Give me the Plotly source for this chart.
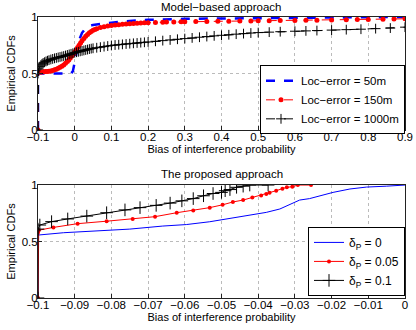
import plotly.graph_objects as go

# ---- top panel: model-based approach ----
x50 = [-0.1, -0.1, -0.01, -0.005, 0.0, 0.005, 0.01, 0.015, 0.02, 0.03, 0.04, 0.05, 0.07, 0.1,
       0.15, 0.2, 0.3, 0.4, 0.5, 0.6, 0.7, 0.8, 0.9]
y50 = [0, 0.5, 0.5, 0.52, 0.6, 0.7, 0.77, 0.82, 0.86, 0.9, 0.92, 0.93, 0.94, 0.95,
       0.965, 0.975, 0.984, 0.988, 0.991, 0.994, 0.996, 0.998, 1.0]

x150 = [-0.1, -0.1, -0.095, -0.09, -0.085, -0.08, -0.075, -0.07, -0.065, -0.06, -0.055, -0.05,
        -0.045, -0.04, -0.035, -0.03, -0.025, -0.02, -0.016, -0.012, -0.008, -0.004, 0.0, 0.004,
        0.008, 0.012, 0.016, 0.02, 0.025, 0.03, 0.035, 0.04, 0.045, 0.05, 0.055, 0.06, 0.07, 0.08,
        0.09, 0.1, 0.11, 0.12, 0.13, 0.14, 0.15, 0.16, 0.17, 0.18, 0.19, 0.2, 0.22, 0.24, 0.25,
        0.27, 0.29, 0.3, 0.33, 0.36, 0.39, 0.42, 0.45, 0.48, 0.5, 0.53, 0.56, 0.6, 0.63, 0.66,
        0.7, 0.74, 0.77, 0.8, 0.84, 0.87, 0.9, 0.9]
y150 = [0, 0.51, 0.512, 0.514, 0.515, 0.517, 0.518, 0.52, 0.523, 0.527, 0.532, 0.538,
        0.546, 0.555, 0.565, 0.575, 0.59, 0.605, 0.62, 0.638, 0.655, 0.672, 0.69, 0.71,
        0.73, 0.75, 0.77, 0.79, 0.81, 0.83, 0.845, 0.86, 0.872, 0.882, 0.89, 0.897, 0.906, 0.913,
        0.92, 0.925, 0.929, 0.932, 0.935, 0.938, 0.94, 0.942, 0.944, 0.946, 0.948, 0.95, 0.952, 0.954, 0.955,
        0.956, 0.957, 0.958, 0.96, 0.961, 0.962, 0.963, 0.964, 0.965, 0.966, 0.967, 0.968, 0.97, 0.971, 0.972,
        0.974, 0.976, 0.977, 0.978, 0.98, 0.982, 0.984, 1.0]

x1000 = [-0.1, -0.1, -0.098, -0.095, -0.092, -0.089, -0.086, -0.082, -0.078, -0.074, -0.07, -0.065,
         -0.06, -0.055, -0.05, -0.045, -0.04, -0.035, -0.03, -0.025, -0.02, -0.015, -0.01, -0.005,
         0.0, 0.005, 0.01, 0.015, 0.02, 0.025, 0.03, 0.035, 0.04, 0.045, 0.05, 0.06, 0.07, 0.08,
         0.09, 0.1, 0.11, 0.12, 0.13, 0.14, 0.15, 0.16, 0.17, 0.18, 0.19, 0.2, 0.22, 0.24, 0.26,
         0.28, 0.3, 0.32, 0.34, 0.36, 0.38, 0.4, 0.42, 0.44, 0.46, 0.48, 0.5, 0.53, 0.56, 0.6,
         0.63, 0.66, 0.7, 0.74, 0.78, 0.82, 0.86, 0.9]
y1000 = [0, 0.5, 0.54, 0.56, 0.575, 0.585, 0.593, 0.6, 0.607, 0.613, 0.618, 0.624,
         0.629, 0.634, 0.638, 0.642, 0.646, 0.65, 0.654, 0.659, 0.664, 0.669, 0.674, 0.679,
         0.684, 0.688, 0.692, 0.696, 0.7, 0.704, 0.708, 0.712, 0.716, 0.72, 0.723, 0.728, 0.733, 0.738,
         0.743, 0.748, 0.752, 0.755, 0.758, 0.761, 0.764, 0.767, 0.77, 0.773, 0.776, 0.779, 0.785, 0.791, 0.797,
         0.803, 0.809, 0.815, 0.821, 0.827, 0.833, 0.838, 0.843, 0.848, 0.853, 0.858, 0.862, 0.866, 0.87, 0.874,
         0.877, 0.88, 0.884, 0.888, 0.892, 0.897, 0.902, 0.91]

# ---- bottom panel: proposed approach ----
xd0 = [-0.1, -0.1, -0.093, -0.084, -0.075, -0.066, -0.0596, -0.0532, -0.0505, -0.0477, -0.0459,
       -0.0414, -0.0378, -0.0341, -0.031, -0.0287, -0.026, -0.0224, -0.0196, -0.015, -0.0105, -0.005, 0.0]
yd0 = [0, 0.557, 0.578, 0.596, 0.61, 0.637, 0.65, 0.675, 0.69, 0.7, 0.71,
       0.735, 0.758, 0.788, 0.83, 0.867, 0.88, 0.91, 0.935, 0.965, 0.982, 0.99, 1.0]

xd05 = [-0.1, -0.1, -0.0998, -0.0958, -0.0892, -0.0813, -0.0742, -0.0681, -0.0622, -0.0577, -0.0532,
        -0.0497, -0.0469, -0.0441, -0.0416, -0.0392, -0.0378, -0.0369, -0.0351, -0.0334, -0.0322,
        -0.0307, -0.0292, -0.0256]
yd05 = [0, 0.58, 0.6, 0.625, 0.658, 0.68, 0.70, 0.72, 0.755, 0.775, 0.80,
        0.825, 0.85, 0.867, 0.89, 0.908, 0.92, 0.932, 0.95, 0.968, 0.98,
        0.985, 1.0, 1.0]

xd1 = [-0.1, -0.1, -0.0995, -0.0963, -0.0919, -0.0867, -0.0813, -0.0763, -0.0722, -0.0678, -0.064,
       -0.0608, -0.0577, -0.0549, -0.0523, -0.050, -0.049, -0.0477, -0.0459, -0.0441, -0.0423, -0.0373]
yd1 = [0, 0.61, 0.646, 0.676, 0.70, 0.725, 0.755, 0.78, 0.80, 0.82, 0.84,
       0.86, 0.88, 0.905, 0.925, 0.935, 0.95, 0.96, 0.98, 0.99, 1.0, 1.0]

top_xticks = [-0.1, 0, 0.1, 0.2, 0.3, 0.4, 0.5, 0.6, 0.7, 0.8, 0.9]
bot_xticks = [-0.1, -0.09, -0.08, -0.07, -0.06, -0.05, -0.04, -0.03, -0.02, -0.01, 0]
yticks = [0, 0.5, 1]

fig = go.Figure()

fig.add_trace(go.Scatter(x=x50, y=y50, mode="lines", name="Loc−error = 50m",
                         line=dict(color="#0000ff", width=2.5, dash="dash"),
                         xaxis="x", yaxis="y", legend="legend"))
fig.add_trace(go.Scatter(x=x150, y=y150, mode="lines+markers", name="Loc−error = 150m",
                         line=dict(color="#ff0000", width=1, dash="dash"),
                         marker=dict(color="#ff0000", size=5, symbol="circle"),
                         xaxis="x", yaxis="y", legend="legend"))
fig.add_trace(go.Scatter(x=x1000, y=y1000, mode="lines+markers", name="Loc−error = 1000m",
                         line=dict(color="#000000", width=1, dash="dash"),
                         marker=dict(color="#000000", size=7, symbol="cross-thin-open", line=dict(width=1, color="#000")),
                         xaxis="x", yaxis="y", legend="legend"))

fig.add_trace(go.Scatter(x=xd0, y=yd0, mode="lines", name="δ<sub>P</sub> = 0",
                         line=dict(color="#0000ff", width=1),
                         xaxis="x2", yaxis="y2", legend="legend2"))
fig.add_trace(go.Scatter(x=xd05, y=yd05, mode="lines+markers", name="δ<sub>P</sub> = 0.05",
                         line=dict(color="#ff0000", width=1),
                         marker=dict(color="#ff0000", size=4, symbol="circle"),
                         xaxis="x2", yaxis="y2", legend="legend2"))
fig.add_trace(go.Scatter(x=xd1, y=yd1, mode="lines+markers", name="δ<sub>P</sub> = 0.1",
                         line=dict(color="#000000", width=1),
                         marker=dict(color="#000000", size=9, symbol="cross-thin-open", line=dict(width=1, color="#000")),
                         xaxis="x2", yaxis="y2", legend="legend2"))

axis_common = dict(showline=True, linecolor="#222", linewidth=1, mirror=True,
                   ticks="inside", ticklen=4, tickcolor="#222", automargin=False,
                   showgrid=True, gridcolor="#bbbbbb", griddash="dot", gridwidth=1,
                   zeroline=False, tickfont=dict(size=11.5, color="#000"))

fig.update_layout(
    width=416, height=330,
    margin=dict(l=38, r=11, t=17, b=32),
    paper_bgcolor="white", plot_bgcolor="white",
    font=dict(family="Liberation Sans, Arial", size=11, color="#000"),
    xaxis=dict(domain=[0, 1], range=[-0.1, 0.9], tickvals=top_xticks, anchor="y",
               ticklabelstandoff=-4,
               title=dict(text="Bias of interference probability", standoff=1, font=dict(size=11)),
               **axis_common),
    yaxis=dict(domain=[0.598, 1], range=[0, 1], tickvals=yticks, anchor="x",
               ticklabelstandoff=-3,
               title=dict(text="Empirical CDFs", standoff=3, font=dict(size=11)),
               **axis_common),
    xaxis2=dict(domain=[0, 1], range=[-0.1, 0], tickvals=bot_xticks, anchor="y2",
                ticklabelstandoff=-4,
                title=dict(text="Bias of interference probability", standoff=1, font=dict(size=11)),
                **axis_common),
    yaxis2=dict(domain=[0, 0.402], range=[0, 1], tickvals=yticks, anchor="x2",
                ticklabelstandoff=-3,
                title=dict(text="Empirical CDFs", standoff=3, font=dict(size=11)),
                **axis_common),
    legend=dict(x=1, y=0.828, xanchor="right", yanchor="top",
                bgcolor="white", bordercolor="#000", borderwidth=1,
                font=dict(size=11.5)),
    legend2=dict(x=1, y=0.253, xanchor="right", yanchor="top",
                 bgcolor="white", bordercolor="#000", borderwidth=1,
                 font=dict(size=12)),
    annotations=[
        dict(text="Model−based approach", x=0.5, y=1, xref="paper", yref="paper",
             xanchor="center", yanchor="bottom", yshift=2, showarrow=False, font=dict(size=11.5)),
        dict(text="The proposed approach", x=0.5, y=0.402, xref="paper", yref="paper",
             xanchor="center", yanchor="bottom", yshift=3, showarrow=False, font=dict(size=11.5)),
    ],
)

fig.write_html("out.html", config={"displayModeBar": False},
               post_script="document.body.style.margin='0';")
